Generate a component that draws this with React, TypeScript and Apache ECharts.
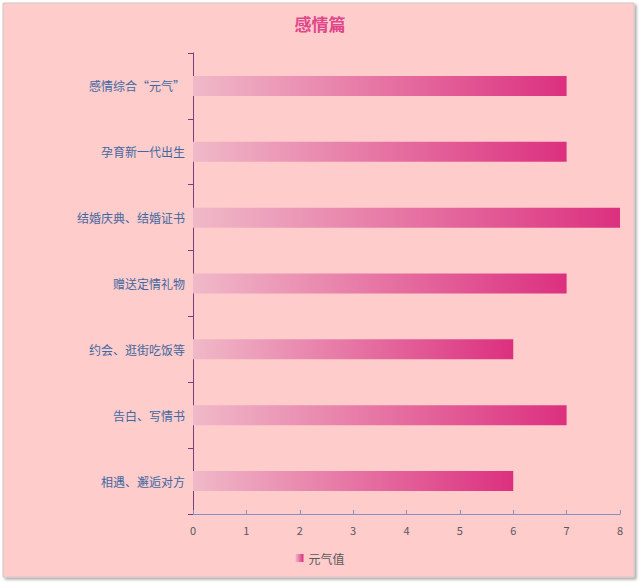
import React, { useEffect, useRef } from "react";
import * as echarts from "echarts";

const categories = [
  "感情综合“元气”",
  "孕育新一代出生",
  "结婚庆典、结婚证书",
  "赠送定情礼物",
  "约会、逛街吃饭等",
  "告白、写情书",
  "相遇、邂逅对方",
];
const values = [7, 7, 8, 7, 6, 7, 6];
const seriesName = "元气值";
const titleText = "感情篇";

const FONT = "'Noto Sans CJK SC', 'Noto Sans', sans-serif";

export default function App() {
  const ref = useRef<HTMLDivElement>(null);
  useEffect(() => {
    document.body.style.margin = "0";
    const chart = echarts.init(ref.current!, null, { renderer: "svg" });
    const grad = new echarts.graphic.LinearGradient(0, 0, 1, 0, [
      { offset: 0, color: "#F0B9C8" },
      { offset: 1, color: "#DC307F" },
    ]);
    chart.setOption({
      animation: false,
      backgroundColor: "#ffffff",
      textStyle: { fontFamily: FONT },
      graphic: [
        {
          type: "rect",
          z: -10,
          silent: true,
          shape: { x: 3, y: 3, width: 631, height: 574 },
          style: {
            fill: "#FFCCCC",
            stroke: "#D8C4C4",
            lineWidth: 1,
            shadowColor: "rgba(0,0,0,0.35)",
            shadowBlur: 3,
            shadowOffsetX: 2,
            shadowOffsetY: 2,
          },
        },
      ],
      title: {
        text: titleText,
        left: "center",
        top: 10,
        textStyle: { fontFamily: FONT, fontSize: 17, fontWeight: "bold", color: "#E0468A" },
      },
      legend: {
        bottom: 13,
        left: "center",
        icon: "rect",
        itemWidth: 8,
        itemHeight: 8,
        itemGap: 10,
        textStyle: { fontFamily: FONT, fontSize: 12, color: "#595959" },
        data: [{ name: seriesName, itemStyle: { color: grad } }],
      },
      grid: { left: 193, right: 20, top: 53, bottom: 68, containLabel: false },
      xAxis: {
        type: "value",
        min: 0,
        max: 8,
        interval: 1,
        axisLine: { show: true, lineStyle: { color: "#8A8CC4", width: 1 } },
        axisTick: { show: true, inside: true, length: 4, lineStyle: { color: "#8A8CC4" } },
        axisLabel: { color: "#595959", fontSize: 11, margin: 10, fontFamily: FONT },
        splitLine: { show: false },
      },
      yAxis: {
        type: "category",
        inverse: true,
        data: categories,
        axisLine: { show: true, lineStyle: { color: "#7A3F78", width: 1 } },
        axisTick: { show: true, length: 5, lineStyle: { color: "#7A3F78" } },
        axisLabel: { color: "#3F68A0", fontSize: 12, margin: 8, fontFamily: FONT },
      },
      series: [
        {
          name: seriesName,
          type: "bar",
          data: values,
          barWidth: 20,
          itemStyle: { color: grad },
        },
      ],
    });
    return () => chart.dispose();
  }, []);
  return <div ref={ref} style={{ width: 640, height: 582 }} />;
}
